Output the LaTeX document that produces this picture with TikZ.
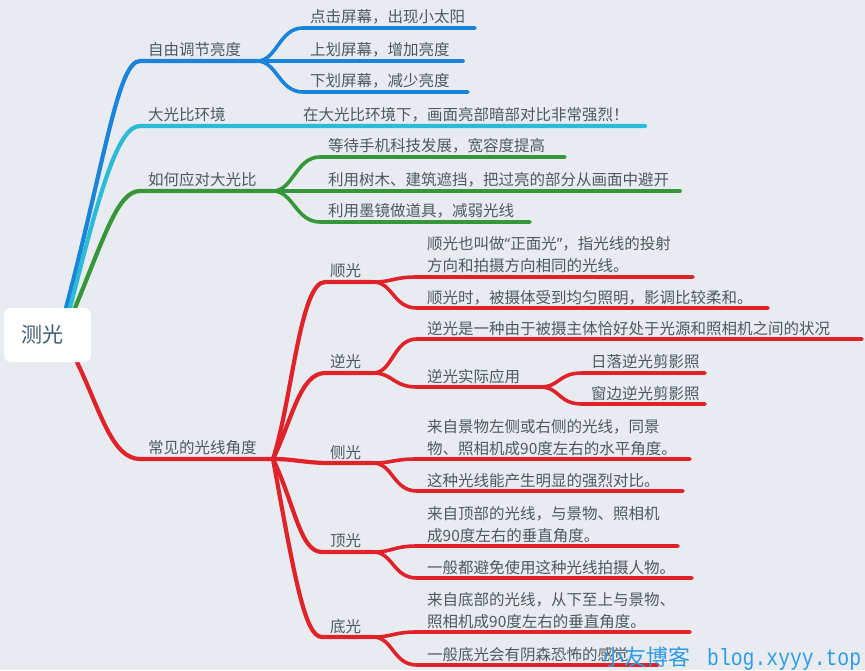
\documentclass[tikz,border=0pt]{standalone}
\usepackage{fontspec}
\newfontfamily\cjk{Noto Sans CJK SC}
\newfontfamily\latq{Noto Sans}
\newfontfamily\wmmono[FakeStretch=0.84]{Liberation Mono}
\definecolor{bg}{HTML}{E8ECF0}
\definecolor{txt}{HTML}{4F5861}
\definecolor{roottxt}{HTML}{3E5C70}
\definecolor{cblue}{HTML}{1A84DB}
\definecolor{ccyan}{HTML}{2BBBD6}
\definecolor{cgreen}{HTML}{35963A}
\definecolor{cred}{HTML}{E0222A}
\definecolor{wm}{HTML}{2E9BE6}
\begin{document}
\begin{tikzpicture}[x=1pt,y=-1pt,
  lbl/.style={font=\cjk\fontsize{15.5}{22}\selectfont, text=txt, anchor=base west, inner sep=0pt, align=left},
  mainline/.style={line width=4.2pt, line cap=round, line join=round},
  subline/.style={line width=3.6pt, line cap=round, line join=round},
  rootbox/.style={fill=white, rounded corners=7pt, minimum width=87pt, minimum height=54pt, inner sep=0pt,
    font=\cjk\fontsize{21}{24}\selectfont, text=roottxt},
  wmark/.style={text=wm, anchor=base west, inner sep=0pt}
]
\fill[bg] (0,0) rectangle (865,670);
\useasboundingbox (0,0) rectangle (865,670);

% ---------- coordinates ----------
\coordinate (rtB) at (66,308);
\coordinate (rtC) at (70,308);
\coordinate (rtG) at (75,308);
\coordinate (rbR) at (77,362);
% blue
\coordinate (b0) at (140,61);  \coordinate (bB) at (257,61);
\coordinate (b1) at (303,28);  \coordinate (b1e) at (475,28);
\coordinate (b2e) at (463,61);
\coordinate (b3) at (303,92);  \coordinate (b3e) at (468,92);
% cyan
\coordinate (c0) at (140,126); \coordinate (c0e) at (645,126);
% green
\coordinate (g0) at (140,191); \coordinate (gB) at (273,191);
\coordinate (g1) at (320,157); \coordinate (g1e) at (565,157);
\coordinate (g2e) at (680,191);
\coordinate (g3) at (320,222); \coordinate (g3e) at (530,222);
% red
\coordinate (r0) at (140,459); \coordinate (rB) at (273,459);
\coordinate (s1) at (325,282); \coordinate (s1B) at (373,282);
\coordinate (s2) at (325,373); \coordinate (s2B) at (373,373);
\coordinate (s3) at (330,463); \coordinate (s3B) at (373,463);
\coordinate (s4) at (322,552); \coordinate (s4B) at (373,552);
\coordinate (s5) at (322,637); \coordinate (s5B) at (373,637);
\coordinate (s1a) at (417,277); \coordinate (s1ae) at (693,277);
\coordinate (s1b) at (417,308); \coordinate (s1be) at (768,308);
\coordinate (s2a) at (417,339); \coordinate (s2ae) at (862,339);
\coordinate (s2b) at (417,387); \coordinate (s2bB) at (540,387);
\coordinate (s2c) at (582,373); \coordinate (s2ce) at (705,373);
\coordinate (s2d) at (582,404); \coordinate (s2de) at (705,404);
\coordinate (s3a) at (417,459); \coordinate (s3ae) at (690,459);
\coordinate (s3b) at (417,491); \coordinate (s3be) at (683,491);
\coordinate (s4a) at (417,546); \coordinate (s4ae) at (678,546);
\coordinate (s4b) at (417,578); \coordinate (s4be) at (692,578);
\coordinate (s5a) at (417,632); \coordinate (s5ae) at (690,632);
\coordinate (s5b) at (417,665); \coordinate (s5be) at (658,665);

% ---------- blue branch ----------
\draw[mainline, cblue] (rtB) .. controls (105,160) and (118,61) .. (b0) -- (bB);
\draw[subline, cblue] (bB) .. controls +(20,0) and +(-24,0) .. (b1) -- (b1e);
\draw[subline, cblue] (bB) -- (b2e);
\draw[subline, cblue] (bB) .. controls +(20,0) and +(-24,0) .. (b3) -- (b3e);
% ---------- cyan branch ----------
\draw[mainline, ccyan] (rtC) .. controls (100,190) and (118,126) .. (c0) -- (c0e);
% ---------- green branch ----------
\draw[mainline, cgreen] (rtG) .. controls (105,235) and (118,191) .. (g0) -- (gB);
\draw[subline, cgreen] (gB) .. controls +(20,0) and +(-24,0) .. (g1) -- (g1e);
\draw[subline, cgreen] (gB) -- (g2e);
\draw[subline, cgreen] (gB) .. controls +(20,0) and +(-24,0) .. (g3) -- (g3e);
% ---------- red branch ----------
\draw[mainline, cred] (rbR) .. controls (100,410) and (112,459) .. (r0) -- (rB);
\draw[mainline, cred] (rB) .. controls (292,400) and (300,282) .. (s1) -- (s1B);
\draw[mainline, cred] (rB) .. controls (292,420) and (300,373) .. (s2) -- (s2B);
\draw[mainline, cred] (rB) .. controls (295,459) and (305,463) .. (s3) -- (s3B);
\draw[mainline, cred] (rB) .. controls (295,505) and (300,552) .. (s4) -- (s4B);
\draw[mainline, cred] (rB) .. controls (295,580) and (305,637) .. (s5) -- (s5B);
\foreach \p/\a/\e in {s1B/s1a/s1ae, s1B/s1b/s1be, s2B/s2a/s2ae, s2B/s2b/s2bB,
  s2bB/s2c/s2ce, s2bB/s2d/s2de, s3B/s3a/s3ae, s3B/s3b/s3be,
  s4B/s4a/s4ae, s4B/s4b/s4be, s5B/s5a/s5ae, s5B/s5b/s5be}
  \draw[subline, cred] (\p) .. controls +(20,0) and +(-24,0) .. (\a) -- (\e);

% ---------- root ----------
\node[rootbox] (root) at (47.5,335) {测光\hspace*{10pt}};

% ---------- labels ----------
\node[lbl] (l1) at (148,55.5) {自由调节亮度};
\node[lbl] (l11) at (310,22.5) {点击屏幕，出现小太阳};
\node[lbl] (l12) at (310,55.5) {上划屏幕，增加亮度};
\node[lbl] (l13) at (310,86.5) {下划屏幕，减少亮度};
\node[lbl] (l2) at (148,120.5) {大光比环境};
\node[lbl] (l21) at (303,120.5) {在大光比环境下，画面亮部暗部对比非常强烈！};
\node[lbl] (l3) at (148,185.5) {如何应对大光比};
\node[lbl] (l31) at (328,151.5) {等待手机科技发展，宽容度提高};
\node[lbl] (l32) at (328,185.5) {利用树木、建筑遮挡，把过亮的部分从画面中避开};
\node[lbl] (l33) at (328,216.5) {利用墨镜做道具，减弱光线};
\node[lbl] (l4) at (148,453.5) {常见的光线角度};
\node[lbl] (l41) at (330,276.5) {顺光};
\node[lbl] (l411) at (427,271.5) {顺光也叫做{\latq “}正面光{\latq ”}，指光线的投射\\方向和拍摄方向相同的光线。};
\node[lbl] (l412) at (427,303) {顺光时，被摄体受到均匀照明，影调比较柔和。};
\node[lbl] (l42) at (330,367.5) {逆光};
\node[lbl] (l421) at (427,334) {逆光是一种由于被摄主体恰好处于光源和照相机之间的状况};
\node[lbl] (l422) at (427,382.5) {逆光实际应用};
\node[lbl] (l4221) at (591,367.5) {日落逆光剪影照};
\node[lbl] (l4222) at (591,399) {窗边逆光剪影照};
\node[lbl] (l43) at (330,458.5) {侧光};
\node[lbl] (l431) at (427,454.5) {来自景物左侧或右侧的光线，同景\\物、照相机成90度左右的水平角度。};
\node[lbl] (l432) at (427,486.5) {这种光线能产生明显的强烈对比。};
\node[lbl] (l44) at (330,546) {顶光};
\node[lbl] (l441) at (427,541.5) {来自顶部的光线，与景物、照相机\\成90度左右的垂直角度。};
\node[lbl] (l442) at (427,573.5) {一般都避免使用这种光线拍摄人物。};
\node[lbl] (l45) at (330,632) {底光};
\node[lbl] (l451) at (427,627.5) {来自底部的光线，从下至上与景物、\\照相机成90度左右的垂直角度。};
\node[lbl] (l452) at (427,660.5) {一般底光会有阴森恐怖的感觉};

% ---------- watermark ----------
\node[wmark, font=\cjk\fontsize{22}{24}\selectfont] (wm1) at (602,665) {小友博客};
\node[wmark, font=\wmmono\fontsize{23.5}{24}\selectfont] (wm2) at (707,665) {blog.xyyy.top};
\end{tikzpicture}
\end{document}
